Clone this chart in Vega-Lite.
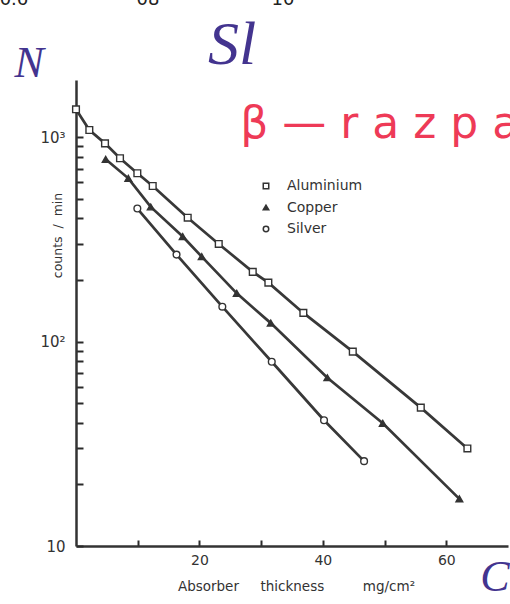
{
  "$schema": "https://vega.github.io/schema/vega-lite/v6.json",
  "width": 432,
  "height": 466,
  "autosize": {"type": "none"},
  "padding": {"left": 76, "top": 80, "right": 2, "bottom": 58},
  "background": "white",
  "config": {
    "view": {"stroke": null},
    "font": "DejaVu Sans"
  },
  "datasets": {
    "curves": [
      {"series": "Aluminium", "x": 0, "y": 1366},
      {"series": "Aluminium", "x": 2.16, "y": 1082},
      {"series": "Aluminium", "x": 4.7, "y": 931},
      {"series": "Aluminium", "x": 7.13, "y": 787},
      {"series": "Aluminium", "x": 9.94, "y": 665},
      {"series": "Aluminium", "x": 12.43, "y": 576},
      {"series": "Aluminium", "x": 18.1, "y": 403},
      {"series": "Aluminium", "x": 23.13, "y": 300},
      {"series": "Aluminium", "x": 28.64, "y": 219},
      {"series": "Aluminium", "x": 31.17, "y": 194},
      {"series": "Aluminium", "x": 36.84, "y": 138},
      {"series": "Aluminium", "x": 44.85, "y": 89.2},
      {"series": "Aluminium", "x": 55.87, "y": 47.5},
      {"series": "Aluminium", "x": 63.42, "y": 30.0},
      {"series": "Copper", "x": 4.81, "y": 778},
      {"series": "Copper", "x": 8.48, "y": 628},
      {"series": "Copper", "x": 12.11, "y": 455},
      {"series": "Copper", "x": 17.29, "y": 326},
      {"series": "Copper", "x": 20.37, "y": 260},
      {"series": "Copper", "x": 26.05, "y": 172},
      {"series": "Copper", "x": 31.56, "y": 123},
      {"series": "Copper", "x": 40.73, "y": 66.5},
      {"series": "Copper", "x": 49.71, "y": 39.8},
      {"series": "Copper", "x": 62.12, "y": 17.0},
      {"series": "Silver", "x": 9.94, "y": 447},
      {"series": "Silver", "x": 16.29, "y": 266},
      {"series": "Silver", "x": 23.71, "y": 148},
      {"series": "Silver", "x": 31.72, "y": 79.6},
      {"series": "Silver", "x": 40.19, "y": 41.2},
      {"series": "Silver", "x": 46.68, "y": 26.0}
    ],
    "notes": [
      {"kind": "pen", "text": "N", "x": -7.6, "y": 2275},
      {"kind": "penbig", "text": "Sl", "x": 25.3, "y": 2818},
      {"kind": "pen", "text": "C", "x": 67.9, "y": 6.97},
      {"kind": "marker", "text": "β — r a z p a d", "x": 26.6, "y": 1145},
      {"kind": "print", "text": "0.6", "x": -10.05, "y": 4677},
      {"kind": "print", "text": "08", "x": 11.67, "y": 4677},
      {"kind": "print", "text": "10", "x": 33.55, "y": 4677}
    ]
  },
  "encoding": {
    "x": {
      "field": "x",
      "type": "quantitative",
      "scale": {"domain": [0, 70], "nice": false, "zero": false},
      "axis": {
        "title": "Absorber\u00a0\u00a0\u00a0\u00a0\u00a0thickness\u00a0\u00a0\u00a0\u00a0\u00a0\u00a0\u00a0\u00a0\u00a0mg/cm²",
        "values": [10, 20, 30, 40, 50, 60],
        "labelExpr": "datum.value % 20 == 0 ? datum.label : ''",
        "grid": false,
        "tickSize": -6,
        "tickWidth": 2,
        "tickColor": "#2a2a2a",
        "domainWidth": 2.5,
        "domainColor": "#333333",
        "labelFontSize": 14,
        "labelColor": "#333333",
        "labelPadding": 13,
        "titleFontSize": 13.5,
        "titleFontWeight": "normal",
        "titleColor": "#333333",
        "titlePadding": 12,
        "titleX": 220
      }
    },
    "y": {
      "field": "y",
      "type": "quantitative",
      "scale": {"type": "log", "domain": [10, 1900], "nice": false},
      "axis": {
        "title": "counts\u00a0\u00a0/\u00a0\u00a0min",
        "values": [10, 20, 30, 40, 50, 60, 70, 80, 90, 100, 200, 300, 400, 500, 600, 700, 800, 900, 1000],
        "labelExpr": "datum.value == 1000 ? '10³' : datum.value == 100 ? '10²' : datum.value == 10 ? '10' : ''",
        "grid": false,
        "tickSize": -7,
        "tickWidth": 2,
        "tickColor": "#2a2a2a",
        "domainWidth": 2.5,
        "domainColor": "#333333",
        "labelFontSize": 15,
        "labelColor": "#333333",
        "labelPadding": 18,
        "titleFontSize": 12.5,
        "titleFontWeight": "normal",
        "titleColor": "#333333",
        "titleX": -19,
        "titleY": 155,
        "titleBaseline": "middle",
        "titleAlign": "center"
      }
    }
  },
  "layer": [
    {
      "data": {"name": "curves"},
      "mark": {"type": "line", "color": "#383838", "strokeWidth": 2.7},
      "encoding": {"detail": {"field": "series", "type": "nominal"}}
    },
    {
      "data": {"name": "curves"},
      "mark": {"type": "point", "size": 45, "stroke": "#333333", "strokeWidth": 1.4, "opacity": 1},
      "encoding": {
        "shape": {
          "field": "series",
          "type": "nominal",
          "title": null,
          "scale": {"domain": ["Aluminium", "Copper", "Silver"], "range": ["square", "triangle-up", "circle"]},
          "legend": {
            "orient": "none",
            "legendX": 183,
            "legendY": 99,
            "labelFontSize": 14,
            "labelColor": "#333333",
            "symbolSize": 30,
            "rowPadding": 7.5,
            "labelOffset": 14,
            "encode": {"symbols": {"update": {"stroke": {"value": "#333333"}, "strokeWidth": {"value": 1.3}}}}
          }
        },
        "fill": {
          "field": "series",
          "type": "nominal",
          "title": null,
          "scale": {"domain": ["Aluminium", "Copper", "Silver"], "range": ["#ffffff", "#333333", "#ffffff"]},
          "legend": {
            "orient": "none",
            "legendX": 183,
            "legendY": 99,
            "labelFontSize": 14,
            "labelColor": "#333333",
            "symbolSize": 30,
            "rowPadding": 7.5,
            "labelOffset": 14,
            "encode": {"symbols": {"update": {"stroke": {"value": "#333333"}, "strokeWidth": {"value": 1.3}}}}
          }
        }
      }
    },
    {
      "data": {"name": "notes"},
      "transform": [{"filter": "datum.kind == 'pen'"}],
      "mark": {"type": "text", "fontSize": 44, "font": "Liberation Serif", "fontStyle": "italic", "color": "#43348f", "baseline": "middle", "align": "center"},
      "encoding": {"text": {"field": "text"}}
    },
    {
      "data": {"name": "notes"},
      "transform": [{"filter": "datum.kind == 'penbig'"}],
      "mark": {"type": "text", "fontSize": 62, "font": "Liberation Serif", "fontStyle": "italic", "color": "#43348f", "baseline": "middle", "align": "center"},
      "encoding": {"text": {"field": "text"}}
    },
    {
      "data": {"name": "notes"},
      "transform": [{"filter": "datum.kind == 'marker'"}],
      "mark": {"type": "text", "fontSize": 44, "font": "DejaVu Sans", "color": "#ee3a57", "baseline": "middle", "align": "left"},
      "encoding": {"text": {"field": "text"}}
    },
    {
      "data": {"name": "notes"},
      "transform": [{"filter": "datum.kind == 'print'"}],
      "mark": {"type": "text", "fontSize": 18, "font": "DejaVu Sans", "color": "#222222", "baseline": "middle", "align": "center"},
      "encoding": {"text": {"field": "text"}}
    }
  ]
}
